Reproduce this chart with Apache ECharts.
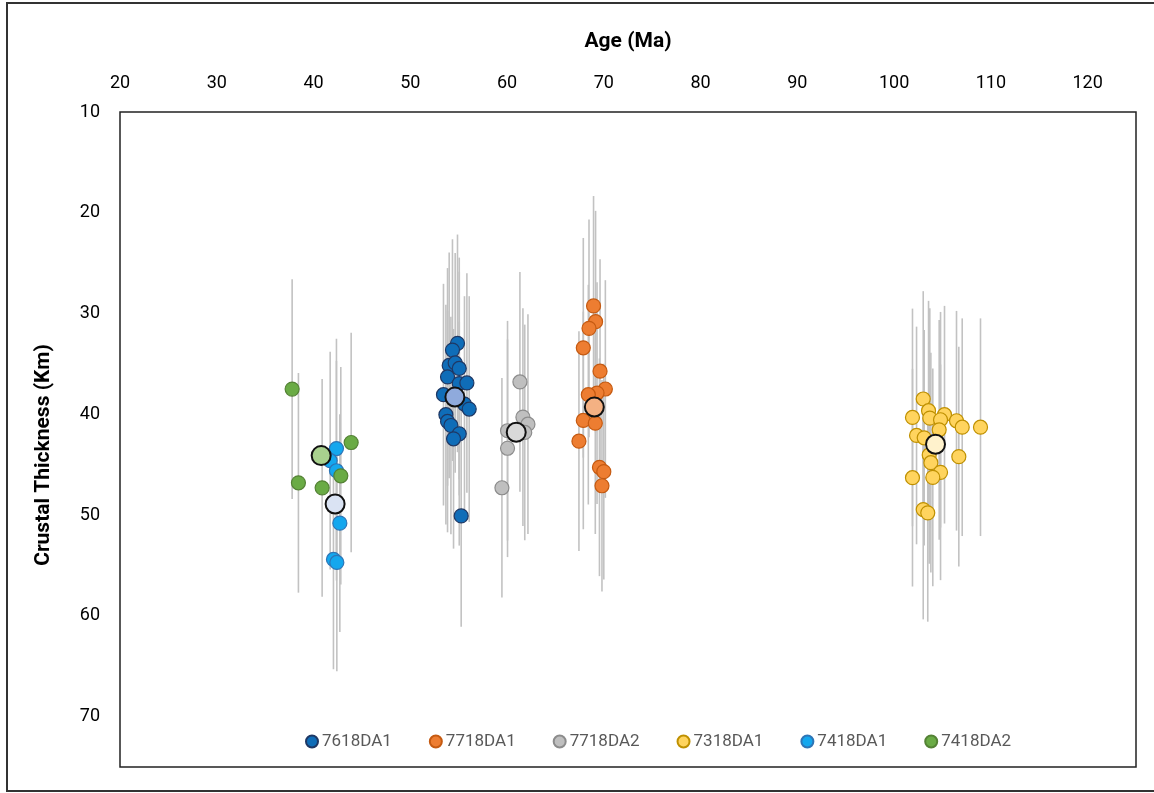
<!DOCTYPE html>
<html>
<head>
<meta charset="utf-8">
<script src="https://cdn.jsdelivr.net/npm/echarts@6/dist/echarts.min.js"></script>
<style>
html,body{margin:0;padding:0;background:#fff;}
#chart{width:1154px;height:793px;}
</style>
</head>
<body>
<div id="chart"></div>
<script>
// ---- Data (Age in Ma, Crustal thickness in km, error in km) ----
const sampleNames = ['7618DA1', '7718DA1', '7718DA2', '7318DA1', '7418DA1', '7418DA2'];

const age7618DA1 = [54.88, 54.36, 54.02, 54.64, 55.06, 53.85, 55.06, 55.85, 53.43, 55.60, 56.09, 53.68, 53.85, 54.20, 55.06, 54.47, 55.26];
const thk7618DA1 = [32.96, 33.63, 35.15, 34.90, 35.45, 36.29, 36.95, 36.89, 38.05, 38.98, 39.48, 40.04, 40.71, 41.11, 41.93, 42.43, 50.08];
const err7618DA1 = [10.8, 11.0, 11.2, 10.9, 11.0, 10.8, 11.1, 10.9, 11.0, 10.7, 11.2, 10.9, 11.0, 10.8, 11.1, 10.9, 11.0];

const age7718DA1 = [68.94, 69.15, 68.47, 67.88, 69.61, 70.16, 69.30, 68.40, 67.88, 69.12, 67.43, 69.55, 70.00, 69.81];
const thk7718DA1 = [29.24, 30.81, 31.47, 33.40, 35.72, 37.49, 37.89, 38.05, 40.61, 40.88, 42.67, 45.26, 45.69, 47.09];
const err7718DA1 = [10.9, 11.0, 10.8, 10.9, 11.1, 10.8, 11.0, 10.9, 10.8, 11.0, 10.9, 10.8, 10.7, 10.5];

const age7718DA2 = [61.33, 61.64, 62.16, 60.05, 61.83, 60.05, 59.47];
const thk7718DA2 = [36.79, 40.28, 40.98, 41.63, 41.80, 43.37, 47.29];
const err7718DA2 = [10.9, 10.8, 10.9, 10.9, 10.7, 10.8, 10.9];

const age7318DA1 = [103.01, 103.56, 101.90, 103.69, 105.21, 104.80, 106.45, 107.04, 108.93, 104.66, 102.32, 103.11, 106.69, 103.63, 103.80, 101.90, 104.80, 104.00, 103.01, 103.48];
const thk7318DA1 = [38.48, 39.64, 40.31, 40.38, 40.04, 40.54, 40.64, 41.28, 41.28, 41.54, 42.10, 42.33, 44.20, 44.03, 44.80, 46.29, 45.76, 46.26, 49.45, 49.78];
const err7318DA1 = [10.7, 10.9, 10.8, 10.9, 10.8, 10.7, 10.9, 10.8, 10.8, 10.9, 10.8, 10.7, 10.9, 10.8, 10.9, 10.8, 10.7, 10.8, 10.9, 10.8];

const age7418DA1 = [42.37, 41.72, 42.37, 42.72, 42.06, 42.41];
const thk7418DA1 = [43.40, 44.60, 45.60, 50.80, 54.40, 54.70];
const err7418DA1 = [10.9, 10.8, 10.9, 10.8, 10.9, 10.8];

const age7418DA2 = [37.79, 38.44, 40.89, 43.89, 42.82];
const thk7418DA2 = [37.50, 46.80, 47.30, 42.80, 46.10];
const err7418DA2 = [10.9, 10.9, 10.8, 10.9, 10.8];

// Sample means (large markers)
const meanAge = [54.61, 69.02, 60.95, 104.28, 42.23, 40.79];
const meanThk = [38.29, 39.28, 41.78, 42.97, 48.90, 44.10];

// Axis ticks
const xTicks = [20, 30, 40, 50, 60, 70, 80, 90, 100, 110, 120];
const yTicks = [10, 20, 30, 40, 50, 60, 70];

// ---- Styling ----
const fills   = ['#0F6DB8', '#ED7D31', '#BFBFBF', '#FFD45E', '#14A7EE', '#6AAB45'];
const borders = ['#1F3864', '#C55A11', '#8C8C8C', '#BF9000', '#2E75B6', '#548235'];
const meanFills = ['#8FAADC', '#F4B183', '#D9D9D9', '#FFF2CC', '#DAE3F3', '#A9D18E'];

const ages = [age7618DA1, age7718DA1, age7718DA2, age7318DA1, age7418DA1, age7418DA2];
const thks = [thk7618DA1, thk7718DA1, thk7718DA2, thk7318DA1, thk7418DA1, thk7418DA2];
const errs = [err7618DA1, err7718DA1, err7718DA2, err7318DA1, err7418DA1, err7418DA2];

const FONT = 'Roboto';
const series = [];

// error bars
sampleNames.forEach((n, i) => {
  series.push({
    name: n + ' err',
    type: 'custom',
    z: 1,
    silent: true,
    encode: { x: 0, y: 1 },
    data: ages[i].map((a, j) => [a, thks[i][j], errs[i][j]]),
    renderItem: function (params, api) {
      const x = api.value(0), y = api.value(1), e = api.value(2);
      const p1 = api.coord([x, y - e]);
      const p2 = api.coord([x, y + e]);
      return {
        type: 'line',
        shape: { x1: p1[0], y1: p1[1], x2: p2[0], y2: p2[1] },
        style: { stroke: '#C2C2C2', lineWidth: 1.6 }
      };
    }
  });
});

// points
sampleNames.forEach((n, i) => {
  series.push({
    name: n,
    type: 'scatter',
    z: 2,
    symbol: 'circle',
    symbolSize: 14,
    itemStyle: { color: fills[i], borderColor: borders[i], borderWidth: 1.2, opacity: 1 },
    data: ages[i].map((a, j) => [a, thks[i][j]])
  });
});

// means
sampleNames.forEach((n, i) => {
  series.push({
    name: n + ' mean',
    type: 'scatter',
    z: 3,
    symbol: 'circle',
    symbolSize: 19,
    itemStyle: { color: meanFills[i], borderColor: '#111', borderWidth: 2, opacity: 1 },
    data: [[meanAge[i], meanThk[i]]]
  });
});

const chart = echarts.init(document.getElementById('chart'));
chart.setOption({
  animation: false,
  backgroundColor: '#fff',
  grid: {
    left: 120, top: 112, right: 18, bottom: 26,
    show: true, borderColor: '#222', borderWidth: 1.5, backgroundColor: 'transparent'
  },
  xAxis: {
    type: 'value',
    position: 'top',
    min: xTicks[0], max: 125, interval: 10,
    axisLine: { show: false },
    axisTick: { show: false },
    splitLine: { show: false },
    axisLabel: {
      color: '#000', fontFamily: FONT, fontSize: 18, margin: 20, showMaxLabel: false,
      formatter: v => xTicks.indexOf(v) >= 0 ? String(v) : ''
    }
  },
  yAxis: {
    type: 'value',
    inverse: true,
    min: yTicks[0], max: 75, interval: 10,
    axisLine: { show: false },
    axisTick: { show: false },
    splitLine: { show: false },
    axisLabel: {
      color: '#000', fontFamily: FONT, fontSize: 18, margin: 20, showMaxLabel: false,
      formatter: v => yTicks.indexOf(v) >= 0 ? String(v) : ''
    }
  },
  legend: {
    data: sampleNames,
    left: 300, top: 728,
    orient: 'horizontal',
    icon: 'circle',
    itemWidth: 12, itemHeight: 12,
    itemGap: 37,
    textStyle: { color: '#595959', fontFamily: FONT, fontSize: 17, padding: [0, 0, 0, -1] }
  },
  graphic: [
    {
      type: 'rect', silent: true, z: 100,
      shape: { x: 7, y: 3, width: 1160, height: 788 },
      style: { fill: 'none', stroke: '#333', lineWidth: 2 }
    },
    {
      type: 'text', silent: true,
      x: 628, y: 42,
      style: { text: 'Age (Ma)', font: 'bold 21px Roboto', fill: '#000', textAlign: 'center', textVerticalAlign: 'middle' }
    },
    {
      type: 'text', silent: true,
      x: 44, y: 455, rotation: Math.PI / 2,
      style: { text: 'Crustal Thickness (Km)', font: 'bold 21px Roboto', fill: '#000', textAlign: 'center', textVerticalAlign: 'middle' }
    }
  ],
  series: series
});
</script>
</body>
</html>
